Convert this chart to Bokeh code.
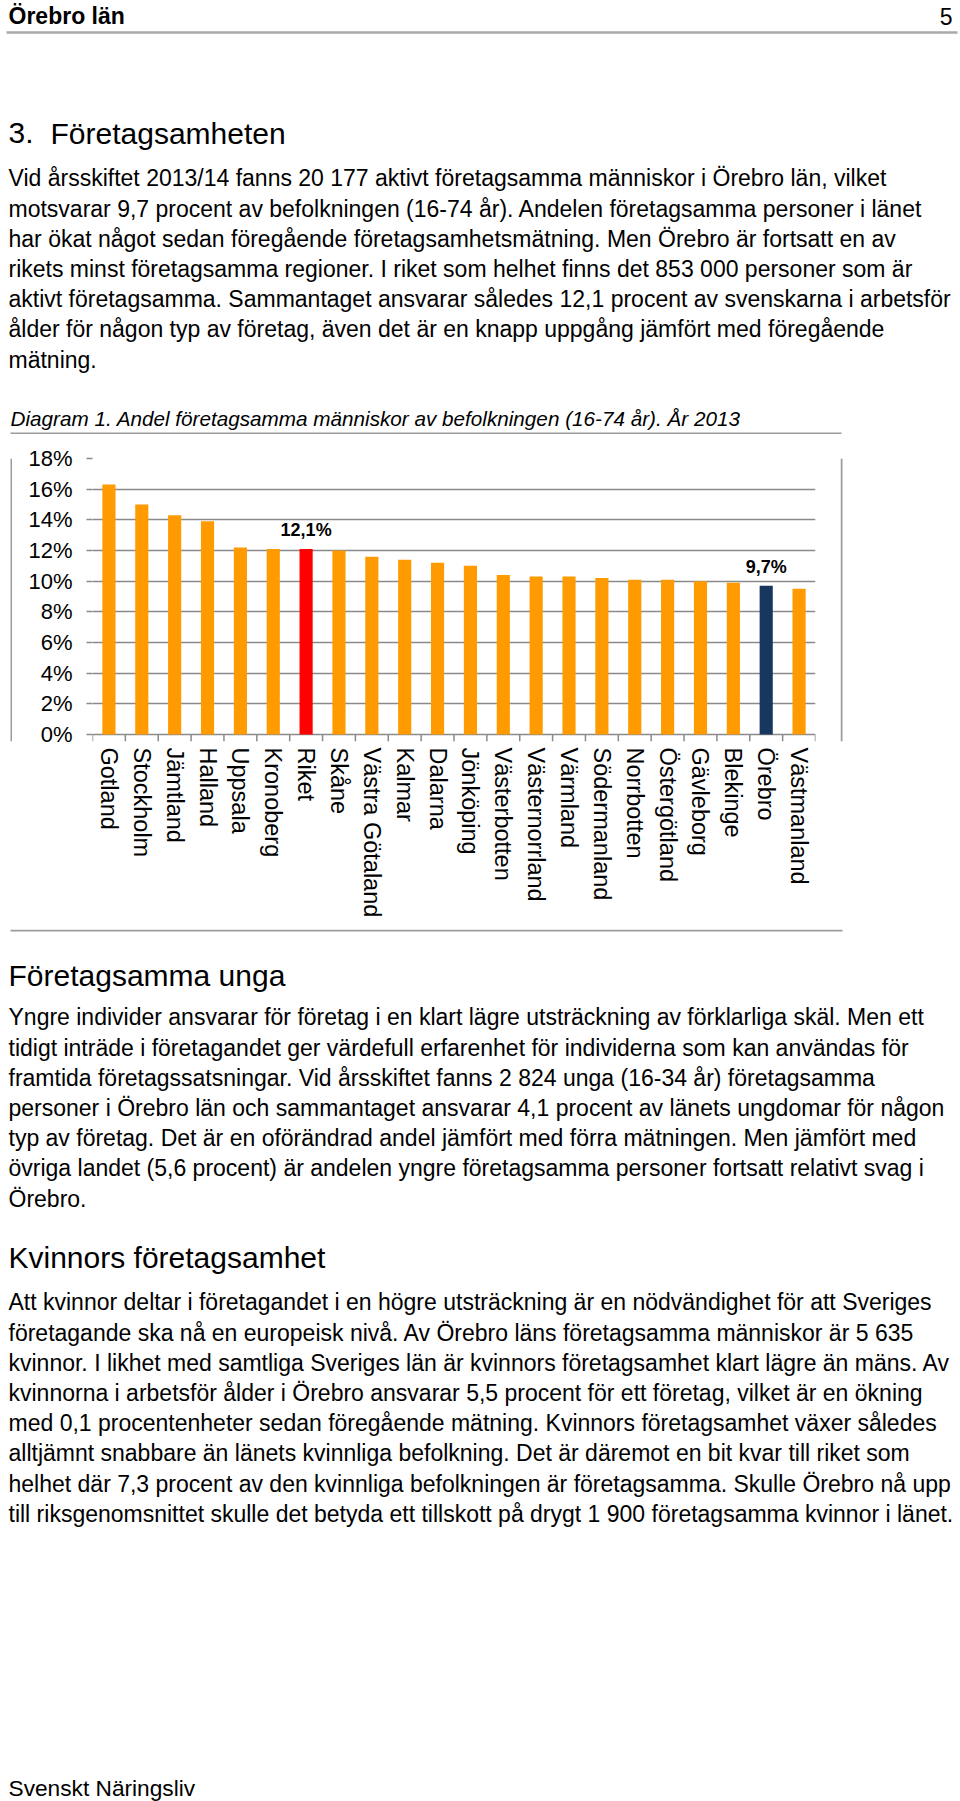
from bokeh.plotting import figure
from bokeh.models import (ColumnDataSource, Range1d, FactorRange, LinearAxis, CategoricalAxis,
                          FixedTicker, PrintfTickFormatter, Grid)
from bokeh.transform import dodge
from bokeh.layouts import column, row
from bokeh.core.properties import value
from bokeh.embed import file_html
from bokeh.resources import INLINE

# ---------------- data ----------------
categories = ["Gotland", "Stockholm", "Jämtland", "Halland", "Uppsala", "Kronoberg", "Riket",
              "Skåne", "Västra Götaland", "Kalmar", "Dalarna", "Jönköping", "Västerbotten",
              "Västernorrland", "Värmland", "Södermanland", "Norrbotten", "Östergötland",
              "Gävleborg", "Blekinge", "Örebro", "Västmanland"]
values = [16.3, 15.0, 14.3, 13.9, 12.2, 12.1, 12.1, 12.0, 11.6, 11.4, 11.2, 11.0, 10.4,
          10.3, 10.3, 10.2, 10.1, 10.1, 10.0, 9.9, 9.7, 9.5]
labeled = ["Riket", "Örebro"]
highlight_colors = {"Riket": "#FF0000", "Örebro": "#17375E"}
base_color = "#FF9A00"
y_ticks = [0, 2, 4, 6, 8, 10, 12, 14, 16, 18]

header_left = "Örebro län"
header_right = "5"
section_num = "3."
section_title = "Företagsamheten"
para1 = [
    "Vid årsskiftet 2013/14 fanns 20 177 aktivt företagsamma människor i Örebro län, vilket",
    "motsvarar 9,7 procent av befolkningen (16-74 år). Andelen företagsamma personer i länet",
    "har ökat något sedan föregående företagsamhetsmätning. Men Örebro är fortsatt en av",
    "rikets minst företagsamma regioner. I riket som helhet finns det 853 000 personer som är",
    "aktivt företagsamma. Sammantaget ansvarar således 12,1 procent av svenskarna i arbetsför",
    "ålder för någon typ av företag, även det är en knapp uppgång jämfört med föregående",
    "mätning.",
]
caption = "Diagram 1. Andel företagsamma människor av befolkningen (16-74 år). År 2013"
heading2 = "Företagsamma unga"
para2 = [
    "Yngre individer ansvarar för företag i en klart lägre utsträckning av förklarliga skäl. Men ett",
    "tidigt inträde i företagandet ger värdefull erfarenhet för individerna som kan användas för",
    "framtida företagssatsningar. Vid årsskiftet fanns 2 824 unga (16-34 år) företagsamma",
    "personer i Örebro län och sammantaget ansvarar 4,1 procent av länets ungdomar för någon",
    "typ av företag. Det är en oförändrad andel jämfört med förra mätningen. Men jämfört med",
    "övriga landet (5,6 procent) är andelen yngre företagsamma personer fortsatt relativt svag i",
    "Örebro.",
]
heading3 = "Kvinnors företagsamhet"
para3 = [
    "Att kvinnor deltar i företagandet i en högre utsträckning är en nödvändighet för att Sveriges",
    "företagande ska nå en europeisk nivå. Av Örebro läns företagsamma människor är 5 635",
    "kvinnor. I likhet med samtliga Sveriges län är kvinnors företagsamhet klart lägre än mäns. Av",
    "kvinnorna i arbetsför ålder i Örebro ansvarar 5,5 procent för ett företag, vilket är en ökning",
    "med 0,1 procentenheter sedan föregående mätning. Kvinnors företagsamhet växer således",
    "alltjämnt snabbare än länets kvinnliga befolkning. Det är däremot en bit kvar till riket som",
    "helhet där 7,3 procent av den kvinnliga befolkningen är företagsamma. Skulle Örebro nå upp",
    "till riksgenomsnittet skulle det betyda ett tillskott på drygt 1 900 företagsamma kvinnor i länet.",
]
footer = "Svenskt Näringsliv"

FONT = "Liberation Sans"
BODY = 23
HEAD = 30
LH = 30.2
K = 0.35          # empirical shift of rendered baseline (fraction of font size)
BOX = "#9c9c9c"
W = 960


def page_fig(width, height, x0, x1, y_top, y_bottom):
    p = figure(width=width, height=height, x_range=Range1d(x0, x1), y_range=Range1d(y_bottom, y_top),
               x_axis_type=None, y_axis_type=None, toolbar_location=None, output_backend="svg",
               min_border=0, outline_line_color=None)
    p.grid.visible = False
    return p


def add_text(p, texts, xs, baselines, size, style="normal", align="left"):
    ys = [b - K * size for b in baselines]
    src = ColumnDataSource(dict(x=xs, y=ys, t=texts))
    p.text(x="x", y="y", text="t", source=src, text_font=value(FONT), text_font_size=f"{size}px",
           text_font_style=style, text_align=align, text_baseline="alphabetic", text_color="black")


def add_para(p, lines, b0, size=BODY):
    add_text(p, lines, [8] * len(lines), [b0 + LH * i for i in range(len(lines))], size)


# ---------------- top text (page y 0..434) ----------------
top = page_fig(W, 434, 0, W, 0, 434)
add_text(top, [header_left], [8], [24], 23, "bold")
add_text(top, [header_right], [952], [24], 23, "normal", "right")
top.segment(x0=[6], y0=[32], x1=[957], y1=[32], line_color="#a9a9a9", line_width=2.5)
add_text(top, [section_num, section_title], [8, 50], [143, 143], HEAD)
add_para(top, para1, 186)
add_text(top, [caption], [10], [425], 20.7, "italic")
top.segment(x0=[10], y0=[433], x1=[841], y1=[433], line_color=BOX, line_width=2)

# ---------------- chart (page y 434..929, x 12..840) ----------------
colors = [highlight_colors.get(c, base_color) for c in categories]
labels = [(f"{v:.1f}".replace(".", ",") + "%") if c in labeled else "" for c, v in zip(categories, values)]
src = ColumnDataSource(dict(cat=categories, val=values, color=colors, lab=labels))

PX_PER_UNIT = 15.333
TICK_LEN = 7 / PX_PER_UNIT

chart = figure(width=828, height=495, x_range=FactorRange(factors=categories, range_padding=0),
               y_range=Range1d(-TICK_LEN, 18), toolbar_location=None, output_backend="svg",
               x_axis_location=None, y_axis_location=None,
               min_border_left=80, min_border_right=25, min_border_top=24, min_border_bottom=188,
               outline_line_color=None)
chart.xgrid.visible = False
chart.ygrid.visible = False

grid_color = "#8a8a8a"
ticker = FixedTicker(ticks=y_ticks)
chart.add_layout(Grid(dimension=1, ticker=ticker, grid_line_color=grid_color, grid_line_width=1.5))

yaxis = LinearAxis(ticker=ticker, formatter=PrintfTickFormatter(format="%d%%"),
                   axis_line_color=None, major_tick_out=6, major_tick_in=0,
                   major_tick_line_color=grid_color, major_tick_line_width=1.5,
                   minor_tick_line_color=None, major_label_standoff=14,
                   major_label_text_font=FONT, major_label_text_font_size="22px",
                   major_label_text_color="black")
chart.add_layout(yaxis, "left")

xaxis = CategoricalAxis(axis_line_color=None, major_tick_line_color=None, minor_tick_line_color=None,
                        major_label_orientation="vertical", major_label_standoff=0,
                        major_label_text_font=FONT, major_label_text_font_size="23.5px",
                        major_label_text_color="black")
chart.add_layout(xaxis, "below")

# category boundary tick marks below the baseline
edge_src = ColumnDataSource(dict(cat=categories, y0=[0] * len(categories), y1=[-TICK_LEN] * len(categories)))
chart.segment(x0=dodge("cat", -0.5, range=chart.x_range), y0="y0",
              x1=dodge("cat", -0.5, range=chart.x_range), y1="y1",
              source=edge_src, line_color=grid_color, line_width=1.5)
last_src = ColumnDataSource(dict(cat=categories[-1:], y0=[0], y1=[-TICK_LEN]))
chart.segment(x0=dodge("cat", 0.5, range=chart.x_range), y0="y0",
              x1=dodge("cat", 0.5, range=chart.x_range), y1="y1",
              source=last_src, line_color=grid_color, line_width=1.5)

chart.vbar(x="cat", top="val", width=0.4, color="color", line_color=None, source=src)
chart.text(x="cat", y="val", text="lab", source=src, text_font=value(FONT), text_font_size="18px",
           text_font_style="bold", text_align="center", text_baseline="alphabetic", y_offset=-19,
           text_color="black")

# box sides
left_strip = page_fig(12, 495, 0, 12, 434, 929)
left_strip.segment(x0=[11], y0=[434], x1=[11], y1=[929], line_color=BOX, line_width=2)
right_strip = page_fig(120, 495, 840, 960, 434, 929)
right_strip.segment(x0=[841], y0=[434], x1=[841], y1=[929], line_color=BOX, line_width=2)

chart_row = row(left_strip, chart, right_strip)

# ---------------- bottom text (page y 929..1801) ----------------
bottom = page_fig(W, 872, 0, W, 929, 1801)
bottom.segment(x0=[10], y0=[930], x1=[842], y1=[930], line_color=BOX, line_width=2)
add_text(bottom, [heading2], [8], [985], HEAD)
add_para(bottom, para2, 1025)
add_text(bottom, [heading3], [8], [1267], HEAD)
add_para(bottom, para3, 1310)
add_text(bottom, [footer], [8], [1795], 22.7)

layout = column(top, chart_row, bottom)
open("out.html", "w").write(file_html(layout, INLINE))
